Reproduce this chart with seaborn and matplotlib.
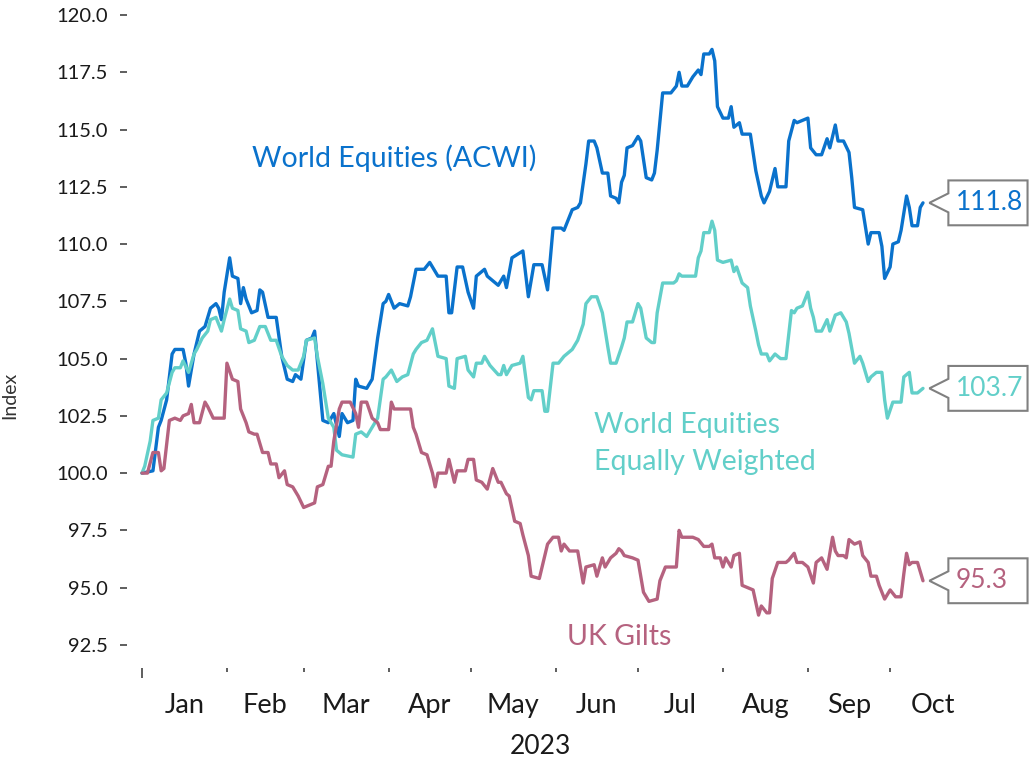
import pandas as pd
import matplotlib
matplotlib.use('Agg')
import matplotlib.pyplot as plt
import matplotlib.dates as mdates
from matplotlib.path import Path
import seaborn as sns

# days since 1 Jan 2023 and index levels (rebased to 100)
acwi_day = [0, 4, 6, 7, 9, 11, 12, 15, 16, 17, 19, 21, 23, 25, 27, 28, 29, 30, 32, 33,
            35, 36, 37, 38, 40, 42, 43, 44, 46, 49, 51, 53, 55, 56, 58, 60, 62, 63, 64, 66,
            68, 70, 72, 73, 75, 77, 78, 79, 82, 84, 86, 88, 89, 90, 92, 94, 97, 98, 100, 103,
            105, 108, 111, 112, 113, 115, 117, 119, 121, 122, 125, 126, 130, 132, 133, 135, 139, 141, 143, 146,
            148, 150, 153, 154, 156, 157, 159, 160, 162, 163, 165, 166, 168, 170, 171, 173, 174, 175, 176, 177,
            179, 181, 182, 184, 186, 187, 188, 190, 193, 195, 196, 197, 199, 201, 203, 204, 205, 207, 208, 209,
            210, 212, 214, 215, 216, 218, 219, 222, 224, 226, 227, 229, 231, 232, 235, 236, 238, 239, 243, 244,
            246, 248, 250, 251, 253, 254, 256, 258, 259, 260, 263, 265, 266, 269, 270, 271, 273, 274, 276, 277,
            279, 280, 281, 283, 284, 285]
acwi_val = [100.0, 100.1, 102.0, 102.3, 103.2, 105.2, 105.4, 105.4, 104.8, 103.8, 105.2, 106.2, 106.4, 107.2, 107.4, 107.2, 106.7, 107.9, 109.4, 108.6,
            108.5, 107.4, 108.1, 107.6, 107.0, 107.1, 108.0, 107.9, 106.8, 106.8, 105.1, 104.1, 104.0, 104.3, 104.1, 105.8, 105.9, 106.2, 104.9, 102.3,
            102.2, 102.6, 101.6, 102.6, 102.2, 102.3, 104.1, 103.8, 103.7, 104.1, 105.9, 107.4, 107.5, 107.8, 107.2, 107.4, 107.3, 107.7, 108.9, 108.9,
            109.2, 108.6, 108.6, 107.0, 107.0, 109.0, 109.0, 107.9, 107.2, 108.6, 108.9, 108.6, 108.2, 108.6, 108.1, 109.4, 109.7, 107.7, 109.1, 109.1,
            108.0, 110.7, 110.7, 110.6, 111.2, 111.5, 111.6, 111.8, 113.5, 114.5, 114.5, 114.2, 113.1, 113.1, 112.1, 112.0, 111.8, 112.7, 113.0, 114.2,
            114.3, 114.7, 114.5, 112.9, 112.8, 113.1, 114.1, 116.6, 116.6, 116.9, 117.5, 116.9, 116.9, 117.3, 117.6, 117.4, 118.3, 118.3, 118.5, 118.0,
            116.0, 115.5, 115.5, 116.0, 115.1, 115.3, 114.8, 114.8, 113.2, 112.1, 111.8, 112.3, 113.3, 112.5, 112.5, 114.5, 115.4, 115.3, 115.5, 114.2,
            113.9, 113.9, 114.6, 114.2, 115.2, 114.5, 114.5, 114.0, 112.9, 111.6, 111.5, 110.0, 110.5, 110.5, 109.9, 108.5, 109.0, 110.0, 110.1, 110.6,
            112.1, 111.6, 110.8, 110.8, 111.6, 111.8]

ew_day = [0, 1, 3, 4, 6, 7, 9, 11, 12, 14, 15, 17, 19, 20, 22, 24, 25, 27, 29, 30,
          32, 33, 35, 36, 38, 39, 41, 43, 45, 47, 49, 51, 53, 55, 57, 59, 60, 63, 64, 66,
          68, 70, 71, 73, 77, 78, 80, 82, 84, 86, 88, 89, 91, 93, 95, 97, 99, 100, 102, 104,
          106, 107, 108, 111, 112, 114, 115, 118, 119, 121, 122, 124, 125, 127, 130, 131, 132, 133, 135, 138,
          139, 141, 142, 143, 146, 147, 148, 150, 152, 154, 155, 157, 159, 161, 162, 164, 166, 168, 170, 171,
          173, 175, 176, 177, 179, 181, 182, 184, 186, 187, 188, 190, 194, 195, 196, 197, 200, 202, 203, 204,
          205, 207, 208, 209, 210, 212, 215, 216, 217, 219, 221, 222, 224, 225, 226, 228, 229, 231, 233, 235,
          237, 238, 239, 241, 243, 244, 245, 246, 248, 250, 251, 253, 255, 257, 258, 260, 262, 263, 265, 266,
          268, 270, 271, 272, 274, 277, 278, 280, 281, 283, 285]
ew_val = [100.0, 100.3, 101.4, 102.3, 102.4, 103.2, 103.5, 104.4, 104.6, 104.6, 104.9, 104.4, 105.2, 105.4, 105.9, 106.2, 106.7, 106.8, 106.2, 106.7,
          107.6, 107.2, 107.1, 106.3, 106.2, 105.7, 105.8, 106.4, 106.4, 105.8, 105.8, 105.1, 104.7, 104.5, 104.5, 105.1, 105.8, 105.9, 105.1, 103.9,
          102.4, 102.0, 101.0, 100.8, 100.7, 101.7, 101.8, 101.6, 102.0, 102.4, 104.1, 104.2, 104.5, 104.0, 104.2, 104.3, 105.2, 105.4, 105.7, 105.8,
          106.3, 105.7, 105.1, 105.0, 103.8, 103.7, 105.0, 105.1, 104.5, 104.2, 104.8, 104.8, 105.1, 104.7, 104.3, 104.3, 104.7, 104.3, 104.7, 104.8,
          105.1, 103.3, 103.2, 103.6, 103.6, 102.7, 102.7, 104.8, 104.8, 105.1, 105.2, 105.4, 105.8, 106.5, 107.4, 107.7, 107.7, 107.0, 105.5, 104.8,
          104.8, 105.5, 105.9, 106.6, 106.6, 107.4, 107.2, 105.9, 105.7, 105.7, 107.0, 108.3, 108.3, 108.4, 108.7, 108.6, 108.6, 108.6, 109.4, 109.7,
          110.5, 110.5, 111.0, 110.6, 109.3, 109.2, 109.3, 108.8, 109.0, 108.3, 108.1, 107.3, 106.2, 105.6, 105.2, 105.2, 104.9, 105.2, 105.0, 105.0,
          107.1, 107.0, 107.2, 107.3, 107.9, 107.2, 106.8, 106.2, 106.2, 106.7, 106.2, 106.9, 107.0, 106.6, 106.1, 104.8, 105.1, 104.8, 104.0, 104.2,
          104.4, 104.4, 103.2, 102.4, 103.1, 103.1, 104.2, 104.4, 103.5, 103.5, 103.7]

gilts_day = [0, 2, 4, 6, 7, 8, 10, 12, 14, 15, 17, 18, 19, 21, 23, 24, 26, 30, 31, 33,
             35, 36, 38, 39, 41, 42, 44, 46, 47, 49, 50, 52, 53, 55, 57, 59, 61, 63, 64, 66,
             68, 69, 70, 72, 73, 76, 78, 79, 80, 82, 84, 86, 87, 90, 91, 92, 94, 98, 99, 100,
             102, 104, 106, 107, 108, 111, 112, 114, 115, 118, 119, 121, 122, 124, 126, 128, 130, 131, 133, 134,
             136, 138, 139, 141, 142, 145, 146, 148, 150, 152, 153, 154, 156, 159, 161, 162, 165, 166, 168, 169,
             171, 173, 174, 175, 176, 179, 181, 183, 185, 188, 189, 191, 194, 195, 196, 197, 201, 203, 205, 207,
             208, 209, 211, 212, 213, 215, 216, 218, 219, 221, 223, 225, 226, 228, 229, 230, 232, 235, 236, 238,
             239, 241, 243, 245, 246, 248, 250, 252, 253, 254, 256, 257, 258, 260, 262, 263, 265, 266, 268, 269,
             271, 273, 275, 277, 278, 279, 280, 281, 283, 285]
gilts_val = [100.0, 100.0, 100.9, 100.9, 100.1, 100.2, 102.3, 102.4, 102.3, 102.5, 102.6, 103.0, 102.2, 102.2, 103.1, 102.9, 102.4, 102.4, 104.8, 104.1,
             104.0, 102.8, 102.2, 101.8, 101.7, 101.7, 100.9, 100.9, 100.4, 100.4, 99.8, 100.1, 99.5, 99.4, 99.0, 98.5, 98.6, 98.7, 99.4, 99.5,
             100.3, 100.3, 101.4, 102.8, 103.1, 103.1, 102.6, 102.0, 103.1, 103.1, 102.4, 102.2, 101.9, 101.9, 103.1, 102.8, 102.8, 102.8, 102.0, 101.7,
             100.9, 100.8, 100.0, 99.4, 100.0, 100.0, 100.6, 99.6, 100.1, 100.1, 100.6, 100.6, 99.7, 99.6, 99.3, 100.2, 99.6, 99.6, 99.1, 99.0,
             97.9, 97.8, 97.3, 96.4, 95.5, 95.4, 95.9, 96.9, 97.2, 97.2, 96.6, 96.9, 96.6, 96.6, 95.2, 95.9, 96.0, 95.5, 96.3, 95.9,
             96.3, 96.5, 96.7, 96.6, 96.4, 96.3, 96.2, 94.8, 94.4, 94.5, 95.3, 95.9, 95.9, 95.9, 97.5, 97.2, 97.2, 97.1, 96.8, 96.8,
             96.9, 96.3, 96.3, 95.9, 96.3, 95.9, 96.4, 96.5, 95.1, 95.0, 94.9, 93.8, 94.2, 93.9, 93.9, 95.4, 96.1, 96.1, 96.2, 96.5,
             96.1, 96.1, 95.9, 95.2, 96.1, 96.3, 95.8, 97.2, 96.6, 96.4, 96.4, 96.3, 97.1, 96.9, 97.0, 96.4, 96.1, 95.5, 95.5, 95.1,
             94.5, 94.9, 94.6, 94.6, 95.6, 96.5, 96.0, 96.1, 96.1, 95.3]

series_names = ['World Equities (ACWI)', 'World Equities Equally Weighted', 'UK Gilts']
series_labels = ['World Equities (ACWI)', 'World Equities\nEqually Weighted', 'UK Gilts']
colors = ['#0a72cc', '#62cfc9', '#b5627f']
months = ['Jan', 'Feb', 'Mar', 'Apr', 'May', 'Jun', 'Jul', 'Aug', 'Sep', 'Oct']
yticks = [92.5, 95.0, 97.5, 100.0, 102.5, 105.0, 107.5, 110.0, 112.5, 115.0, 117.5, 120.0]

start = pd.Timestamp('2023-01-01')
frames = []
for name, days, vals in zip(series_names,
                            [acwi_day, ew_day, gilts_day],
                            [acwi_val, ew_val, gilts_val]):
    frames.append(pd.DataFrame({'date': start + pd.to_timedelta(days, unit='D'),
                                'value': vals, 'series': name}))
df = pd.concat(frames, ignore_index=True)
palette = dict(zip(series_names, colors))

sns.set_style('white')
plt.rcParams['font.family'] = ['Lato', 'DejaVu Sans']

fig = plt.figure(figsize=(10.29, 7.58), dpi=100)
ax = fig.add_axes([0.1234, 0.1187, 0.7901, 0.8681])

sns.lineplot(data=df, x='date', y='value', hue='series', palette=palette,
             estimator=None, linewidth=2.4, legend=False, ax=ax)

sns.despine(ax=ax, left=True, bottom=True)
t0 = mdates.date2num(start)
ax.set_xlim(t0 - 5.47, t0 + 291.2)
ax.set_ylim(91.49, 120.22)

# month boundaries as ticks, month names centred between them
bounds = pd.date_range('2023-01-01', periods=11, freq='MS')
mids = [b + (bounds[i + 1] - b) / 2 for i, b in enumerate(bounds[:-1])]
ax.set_xticks(bounds[:-1])
ax.set_xticklabels([])
ax.set_xticks(mids, minor=True)
ax.set_xticklabels(months, minor=True)
ax.tick_params(axis='x', which='major', direction='out', length=3, width=1.1,
               color='#333333', bottom=True)
ax.tick_params(axis='x', which='minor', length=0, pad=18, labelsize=19.5,
               labelcolor='#1a1a1a')
ax.xaxis.get_major_ticks()[0].tick1line.set_markersize(7.5)

ax.set_yticks(yticks)
ax.set_yticklabels([f'{v:.1f}' for v in yticks])
ax.tick_params(axis='y', direction='out', length=5, width=1.1, color='#333333',
               left=True, labelsize=14.5, labelcolor='#1a1a1a', pad=9)

ax.set_xlabel('2023', fontsize=19, color='#1a1a1a')
ax.xaxis.set_label_coords(0.508, -0.100)
ax.set_ylabel('Index', fontsize=14, color='#333333')
ax.yaxis.set_label_coords(-0.134, 0.415)

# series names next to the lines
label_pos = [('2023-02-10', 113.76), ('2023-06-15', 101.29), ('2023-06-05', 92.84)]
for text, (d, v), c in zip(series_labels, label_pos, colors):
    ax.text(pd.Timestamp(d), v, text, color=c, fontsize=20.5, ha='left', va='center',
            linespacing=1.5)


def callout(x0, y0, width, height, mutation_size):
    # fixed-size box with a "<" pointer on its left edge
    m = mutation_size
    left = x0 - 0.27 * m
    right = left + 3.0 * m
    ym = y0 + height / 2
    top, bottom = ym + 0.85 * m, ym - 0.85 * m
    verts = [(left, bottom), (right, bottom), (right, top), (left, top),
             (left, ym + 0.36 * m), (left - 0.72 * m, ym), (left, ym - 0.36 * m),
             (left, bottom)]
    codes = [Path.MOVETO] + [Path.LINETO] * 6 + [Path.CLOSEPOLY]
    return Path(verts, codes)


# last value callouts
for name, c in zip(series_names, colors):
    last = df[df['series'] == name].iloc[-1]
    ax.annotate(f"{last['value']:.1f}", xy=(last['date'], last['value']),
                xytext=(23.4, 0), textcoords='offset points', ha='left', va='center',
                fontsize=19, color=c, annotation_clip=False,
                bbox=dict(boxstyle=callout, fc='white', ec='#808080', lw=1.5))

fig.savefig('out.png', dpi=100)
